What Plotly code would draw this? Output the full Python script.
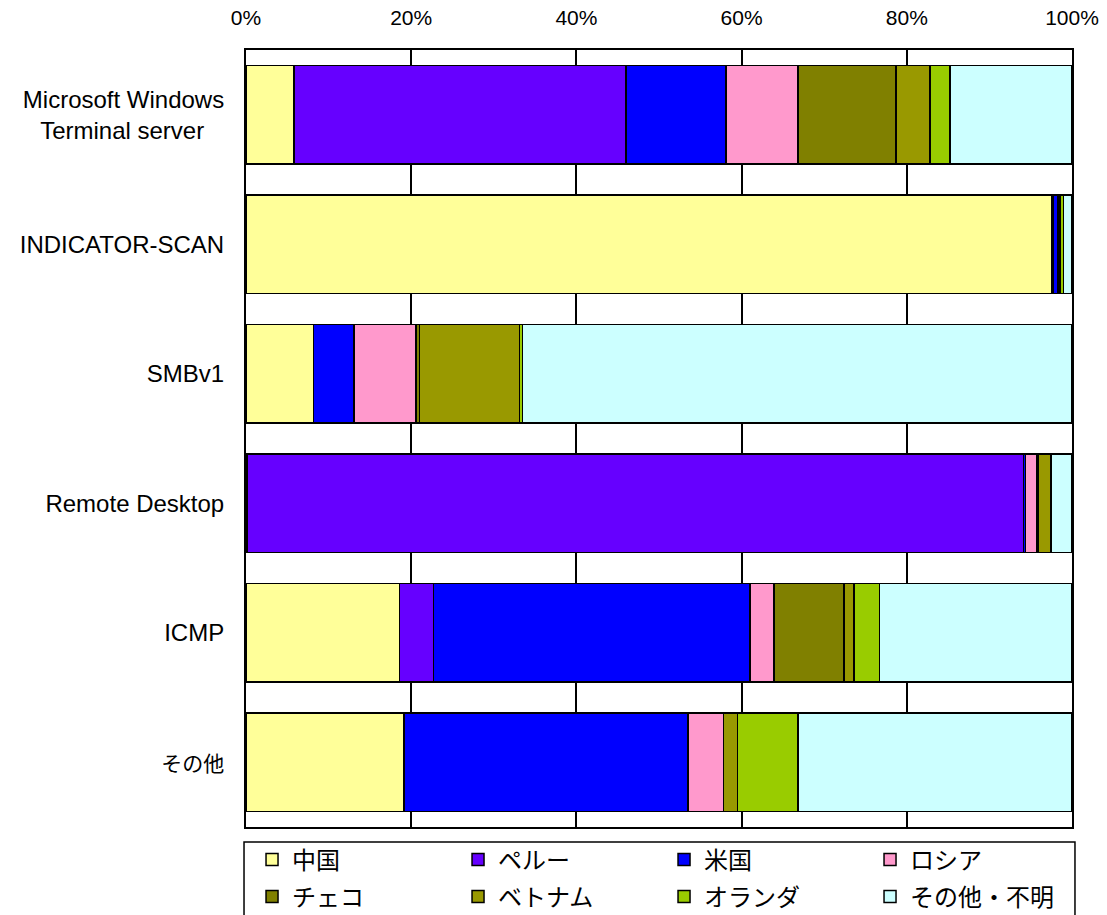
import plotly.graph_objects as go

# Categories shown on the y axis (top to bottom)
categories = [
    "Microsoft Windows<br>Terminal server&nbsp;&nbsp;&nbsp;",
    "INDICATOR-SCAN",
    "SMBv1",
    "Remote Desktop",
    "ICMP",
    "<span style='font-size:21px'>その他</span>",
]

# Share of sources per country (%) for each category
china       = [5.8, 97.6, 8.2, 0.2, 18.6, 19.1]
peru        = [40.2, 0.1, 0.0, 93.9, 4.1, 0.0]
usa         = [12.1, 0.6, 4.9, 0.3, 38.3, 34.4]
russia      = [8.7, 0.1, 7.5, 1.3, 2.9, 4.3]
czech       = [11.9, 0.1, 0.4, 0.2, 8.5, 0.0]
vietnam     = [4.1, 0.1, 12.1, 1.5, 1.2, 1.7]
netherlands = [2.4, 0.4, 0.4, 0.1, 3.1, 7.3]
other       = [14.8, 1.0, 66.5, 2.5, 23.3, 33.2]

series_names = ["中国", "ペルー", "米国", "ロシア", "チェコ", "ベトナム", "オランダ", "その他・不明"]
series_values = [china, peru, usa, russia, czech, vietnam, netherlands, other]
series_colors = ["#FFFF99", "#6600FF", "#0000FF", "#FF99CC",
                 "#808000", "#999900", "#99CC00", "#CCFFFF"]
# legend rows: first four entries on the top row, the rest below
series_legend = ["legend"] * 4 + ["legend2"] * 4

x_ticks = [0, 20, 40, 60, 80, 100]
x_tick_labels = ["0%", "20%", "40%", "60%", "80%", "100%"]

LATIN = "Liberation Sans, Noto Sans CJK JP"
CJK = "Noto Sans CJK JP"

fig = go.Figure()
for name, vals, color, lg in zip(series_names, series_values, series_colors, series_legend):
    fig.add_trace(go.Bar(
        y=categories, x=vals, name=name, orientation="h",
        marker=dict(color=color, line=dict(color="black", width=1.5)),
        legend=lg,
    ))

legend_common = dict(
    orientation="h",
    xanchor="left", yanchor="middle",
    bgcolor="rgba(0,0,0,0)", borderwidth=0,
    font=dict(family=CJK, size=24, color="black"),
    entrywidthmode="pixels", entrywidth=161,
    itemwidth=30,
    traceorder="normal",
)

fig.update_layout(
    barmode="stack",
    bargap=0.243,
    width=1107, height=915,
    margin=dict(l=246, r=35, t=50, b=88, autoexpand=False),
    paper_bgcolor="white", plot_bgcolor="white",
    font=dict(family=LATIN, color="black", size=20),
    showlegend=True,
    legend=dict(x=0.0073, y=-0.0425, **legend_common),
    legend2=dict(x=0.0073, y=-0.0901, **legend_common),
    xaxis=dict(
        side="top", range=[0, 100],
        tickvals=x_ticks, ticktext=x_tick_labels,
        showgrid=True, gridcolor="black", gridwidth=1.5,
        showline=True, linecolor="black", linewidth=2, mirror=True,
        ticks="", ticklabelstandoff=15,
        tickfont=dict(family=LATIN, size=21),
        zeroline=False, fixedrange=True,
    ),
    yaxis=dict(
        autorange="reversed",
        showgrid=False,
        showline=True, linecolor="black", linewidth=2, mirror=True,
        ticks="", ticklabelstandoff=15,
        tickfont=dict(family=LATIN, size=24),
        fixedrange=True,
    ),
    shapes=[
        # frame around both legend rows
        dict(type="rect", xref="paper", yref="paper",
             x0=-0.0024, x1=1.0036, y0=-0.0193, y1=-0.13,
             line=dict(color="black", width=1.5), fillcolor="white",
             layer="above"),
    ],
)

fig.write_html("out.html")
